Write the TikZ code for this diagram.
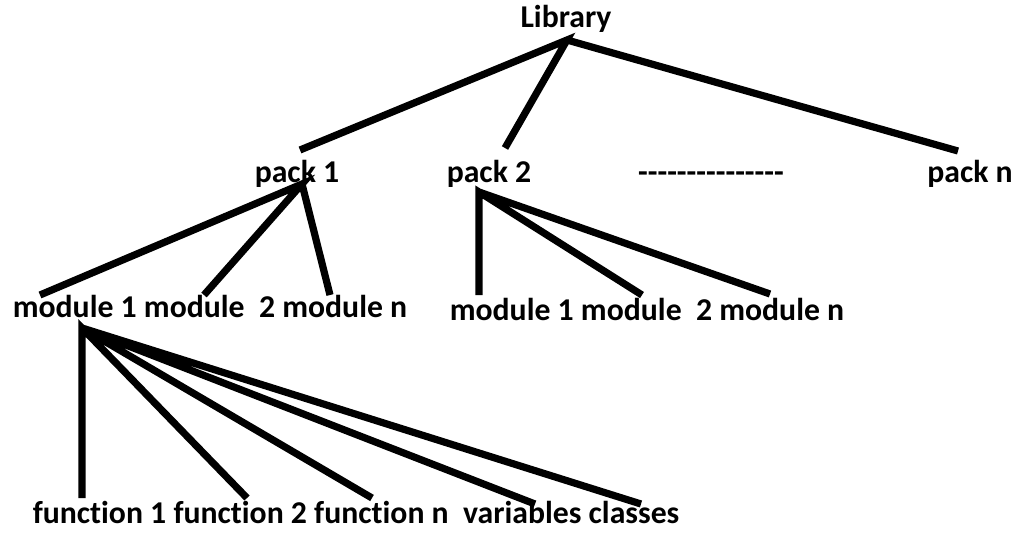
\documentclass[tikz,border=0pt]{standalone}
\usepackage{fontspec}
\setmainfont{Carlito}[Ligatures=NoCommon]
\usetikzlibrary{positioning}
\tikzset{
  lbl/.style={font=\bfseries\fontsize{23.8}{28}\selectfont, inner sep=0pt, anchor=base},
  link/.style={line width=5.4pt}
}
\newcommand{\hy}{\mbox{-}}

\begin{document}
\begin{tikzpicture}[x=0.75pt,y=-0.75pt]
 \useasboundingbox (0,0) rectangle (1016,535);
 \node[lbl] (lib) at (566,28) {Library};
 \node[lbl] (pack1) at (297,182) {pack 1};
 \node[lbl] (pack2) at (489,182) {pack 2};
 \node[lbl] (gap) at (711,182) {\hy\hy\hy\hy\hy\hy\hy\hy\hy\hy\hy\hy\hy\hy\hy};
 \node[lbl] (packn) at (970,182) {pack n};
 \node[lbl] (mods1) at (210,317) {module 1 module\ \ 2 module n};
 \node[lbl] (mods2) at (647,320) {module 1 module\ \ 2 module n};
 \node[lbl] (funcs) at (356,523) {function 1 function 2 function n\ \ variables classes};
 \coordinate (lib-c) at (567,40);
 \coordinate (p1-in) at (300,150);
 \coordinate (p2-in) at (505,148);
 \coordinate (pn-in) at (958,151);
 \coordinate (p1-c) at (302,184);
 \coordinate (p2-c) at (479,192);
 \coordinate (m11-in) at (40,295);
 \coordinate (m12-in) at (204,295);
 \coordinate (m1n-in) at (330,295);
 \coordinate (m21-in) at (479,295);
 \coordinate (m22-in) at (642,295);
 \coordinate (m2n-in) at (770,294);
 \coordinate (m1-c) at (82,328);
 \coordinate (f1-in) at (82,498);
 \coordinate (f2-in) at (247,498);
 \coordinate (fn-in) at (372,498);
 \coordinate (var-in) at (535,504);
 \coordinate (cls-in) at (641,504);
 \draw[link] (p1-in) -- (lib-c) -- (p2-in) (lib-c) -- (pn-in);
 \draw[link] (m11-in) -- (p1-c) -- (m12-in) (p1-c) -- (m1n-in);
 \draw[link] (m21-in) -- (p2-c) -- (m22-in) (p2-c) -- (m2n-in);
 \draw[link] (f1-in) -- (m1-c) -- (f2-in) (m1-c) -- (fn-in)
  (m1-c) -- (var-in) (m1-c) -- (cls-in);
\end{tikzpicture}
\end{document}
